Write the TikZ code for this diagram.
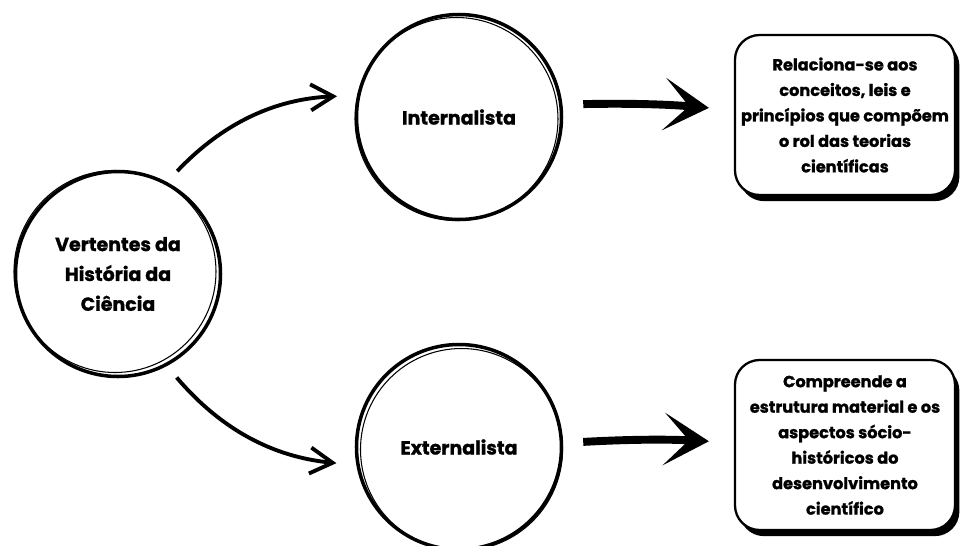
\documentclass[tikz,border=0pt]{standalone}
\usepackage{fontspec}
\setmainfont{Poppins}[BoldFeatures={FakeBold=1.2}]
\usetikzlibrary{arrows.meta,shadows,positioning}

\begin{document}
\begin{tikzpicture}[
    circulo/.style={draw,circle,line width=2pt,minimum size=4.1cm,align=center,font=\bfseries\fontsize{10.8}{17}\selectfont},
    caixa/.style={draw,rounded corners=14pt,line width=1.3pt,fill=white,minimum width=4.4cm,align=center,
        font=\bfseries\fontsize{9.2}{14.5}\selectfont,
        drop shadow={shadow xshift=2.5pt,shadow yshift=-3.5pt,opacity=1,fill=black}},
    seta/.style={line width=2.2pt,-{Straight Barb[length=0.45cm,width=0.52cm]},shorten <=0.3cm,shorten >=0.4cm},
    setagrossa/.style={line width=4.5pt,-{Stealth[length=0.9cm,width=1.05cm,inset=0.5cm]}}
]
    \useasboundingbox (0,0) rectangle (19.24,-10.9);
    % circulos
    \node[circulo] (ver) at (2.36,-5.48) {Vertentes da\\História da\\Ciência};
    \node[circulo] (int) at (9.18,-2.34) {Internalista};
    \node[circulo] (ext) at (9.18,-8.94) {Externalista};
    \draw[line width=0.6pt] ([shift={(-0.06,0.05)}]ver.center) circle[radius=2.02cm];
    \draw[line width=0.6pt] ([shift={(-0.05,-0.04)}]int.center) circle[radius=2.03cm];
    \draw[line width=0.6pt] ([shift={(0.05,-0.05)}]ext.center) circle[radius=2.02cm];
    % caixas
    \node[caixa,minimum height=3.2cm] (rel) at (16.9,-2.3) {Relaciona-se aos\\conceitos, leis e\\princípios que compõem\\o rol das teorias\\científicas};
    \node[caixa,minimum height=3.4cm] (comp) at (16.9,-8.9) {Compreende a\\estrutura material e os\\aspectos sócio-\\históricos do\\desenvolvimento\\científico};
    % setas
    \draw[seta] (ver.62) to[bend left=22] (int.168);
    \draw[seta] (ver.-62) to[bend right=22] (ext.190);
    \draw[setagrossa,shorten <=0.4cm,shorten >=0.5cm] ([yshift=0.25cm]int.east) to[bend left=3] ([yshift=0.1cm]rel.west);
    \draw[setagrossa,shorten <=0.4cm,shorten >=0.5cm] ([yshift=0.08cm]ext.east) to[bend left=3] ([yshift=0.05cm]comp.west);
\end{tikzpicture}
\end{document}
